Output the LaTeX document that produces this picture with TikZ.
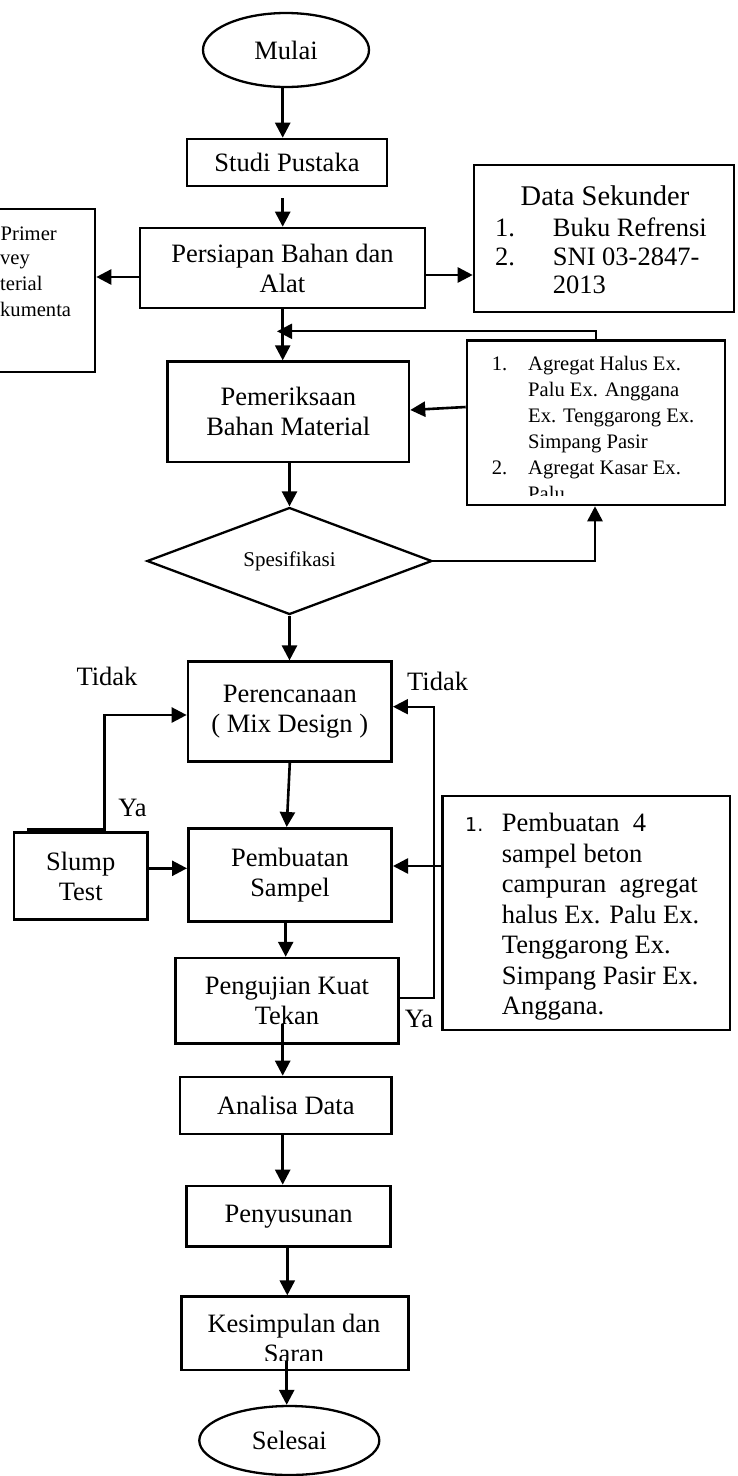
\documentclass[tikz,border=0pt]{standalone}
\usepackage{fontspec}
\setmainfont{Liberation Serif}
\newfontfamily\numfont{DejaVu Sans}
\usetikzlibrary{shapes.geometric,arrows.meta}
\begin{document}
\begin{tikzpicture}[x=1pt,y=-1pt,
  every node/.style={font=\fontsize{26.5}{30}\selectfont},
  box/.style={draw, line width=2.6pt, inner sep=0pt, align=center},
  term/.style={draw, ellipse, line width=2.3pt, inner sep=0pt},
  arr/.style={line width=2.6pt, -{Triangle[length=15pt,width=15pt]}},
  thinarr/.style={line width=2pt, -{Triangle[length=15pt,width=15pt]}},
  small/.style={font=\fontsize{20.6}{26}\selectfont, inner sep=0pt},
  lbl/.style={inner sep=0pt}
]
\useasboundingbox (0,0) rectangle (737,1476);
\clip (0,0) rectangle (737,1476);

% main nodes
\node[term, minimum width=166pt, minimum height=74pt] (mulai) at (286,50) {Mulai};
\node[box, minimum width=200pt, minimum height=47pt] (studi) at (287,162.5) {Studi Pustaka};
\node[box, minimum width=285pt, minimum height=80pt] (persiapan) at (282.5,268) {Persiapan Bahan dan\\Alat};
\node[box, minimum width=200pt, minimum height=163pt] (primer) at (-5,290.5) {};
\node[box, minimum width=260pt, minimum height=147pt] (sekunder) at (604,238.5) {};
\node[box, minimum width=241.3pt, minimum height=100.3pt] (periksa) at (288.3,411.8) {Pemeriksaan\\Bahan Material};
\node[box, minimum width=258pt, minimum height=164.3pt] (agregat) at (596,422.8) {};
\node[draw, diamond, shape aspect=2.66, line width=2.3pt, minimum width=285pt, minimum height=107pt, inner sep=0pt, font=\fontsize{21}{24}\selectfont] (spes) at (289.5,561) {Spesifikasi};
\node[box, minimum width=203.7pt, minimum height=100pt] (rencana) at (289.8,711.7) {Perencanaan\\( Mix Design )};
\node[box, minimum width=133.3pt, minimum height=86.6pt] (slump) at (80.7,876) {Slump\\Test};
\node[box, minimum width=203.4pt, minimum height=93.4pt] (buat) at (290,875) {Pembuatan\\Sampel};
\node[box, minimum width=287.3pt, minimum height=234pt] (sampel) at (586.3,913) {};
\node[box, minimum width=222.6pt, minimum height=85.3pt] (uji) at (287,1000.7) {Pengujian Kuat\\Tekan};
\node[box, minimum width=211.7pt, minimum height=57pt] (analisa) at (285.8,1105.5) {Analisa Data};
\node[box, minimum width=204pt, minimum height=60.7pt] (susun) at (288.7,1216.3) {Penyusunan};
\node[box, minimum width=226.7pt, minimum height=73.3pt] (simpul) at (295,1333.3) {};
\node[term, minimum width=180pt, minimum height=69pt] (selesai) at (289.3,1440.5) {Selesai};

% Data Primer (cut at the left edge)
\node[small, anchor=base west] (pr1) at (0.5,240) {Primer};
\node[small, anchor=base west] (pr2) at (0,264) {vey};
\node[small, anchor=base west] (pr3) at (0,290) {terial};
\node[small, anchor=base west] (pr4) at (0,316) {kumenta};

% Data Sekunder
\node[lbl, font=\fontsize{28.5}{30}\selectfont, anchor=base] (sk0) at (605,205) {Data Sekunder};
\node[lbl, anchor=base west] (sk1n) at (495,236) {1.};
\node[lbl, anchor=base west] (sk1) at (552.7,236) {Buku Refrensi};
\node[lbl, anchor=base west] (sk2n) at (495,265) {2.};
\node[lbl, anchor=base west] (sk2) at (552.7,265) {SNI 03-2847-};
\node[lbl, anchor=base west] (sk3) at (552.7,293.3) {2013};

% Agregat (text cut at the box bottom)
\begin{scope}
\clip (468,342) rectangle (724,495);
\node[small, anchor=base west] (ag1n) at (491.7,370) {1.};
\node[small, anchor=base west] (ag1) at (528,370) {Agregat Halus Ex.};
\node[small, anchor=base west] (ag2) at (528,396) {Palu Ex. Anggana};
\node[small, anchor=base west] (ag3) at (528,422) {Ex. Tenggarong Ex.};
\node[small, anchor=base west] (ag4) at (528,448) {Simpang Pasir};
\node[small, anchor=base west] (ag5n) at (491.7,474) {2.};
\node[small, anchor=base west] (ag5) at (528,474) {Agregat Kasar Ex.};
\node[small, anchor=base west] (ag6) at (528,500) {Palu};
\end{scope}

% Pembuatan 4 sampel
\node[lbl, font=\numfont\fontsize{19}{22}\selectfont, anchor=base west] (smn) at (465,831.7) {1.};
\node[lbl, anchor=base west] (sm1) at (501.7,831.7) {Pembuatan\ \ 4};
\node[lbl, anchor=base west] (sm2) at (501.7,862.2) {sampel beton};
\node[lbl, anchor=base west] (sm3) at (501.7,892.7) {campuran\ \ agregat};
\node[lbl, anchor=base west] (sm4) at (501.7,923.2) {halus Ex. Palu Ex.};
\node[lbl, anchor=base west] (sm5) at (501.7,953.7) {Tenggarong Ex.};
\node[lbl, anchor=base west] (sm6) at (501.7,984.2) {Simpang Pasir Ex.};
\node[lbl, anchor=base west] (sm7) at (501.7,1014.7) {Anggana.};

% Kesimpulan (second line cut)
\node[lbl, anchor=base] (k1) at (294,1332.7) {Kesimpulan dan};
\begin{scope}
\clip (182,1297) rectangle (408,1360.5);
\node[lbl, anchor=base] (k2) at (294,1362.7) {Saran};
\end{scope}

% labels
\node[lbl, anchor=base] (tidak1) at (107,685) {Tidak};
\node[lbl, anchor=base] (tidak2) at (437.6,690.5) {Tidak};
\node[lbl, anchor=base] (ya1) at (132.5,816.7) {Ya};
\node[lbl, anchor=base] (ya2) at (419,1027.7) {Ya};

% connectors
\draw[arr] ([xshift=-3.3pt]mulai.south) -- ([xshift=-3.3pt]mulai.south |- studi.north);
\draw[arr] ([xshift=-4.3pt,yshift=-11pt]studi.south) -- ([xshift=-4.3pt]studi.south |- persiapan.north);
\draw[arr] ([xshift=0.2pt]persiapan.south) -- ([xshift=0.2pt]persiapan.south |- periksa.north);
\draw[arr] ([yshift=-9pt]persiapan.west) -- ([yshift=-9pt]persiapan.west -| primer.east);
\draw[arr] ([yshift=-7pt]persiapan.east) -- ([yshift=-7pt]persiapan.east -| sekunder.west);
\draw[thinarr] (agregat.north) |- ([xshift=-5.5pt,yshift=-22pt]persiapan.south);
\draw[arr] ([yshift=15.8pt]agregat.west) -- ([yshift=1.8pt]periksa.east);
\draw[arr] (periksa.south -| spes.north) -- (spes.north);
\draw[arr] (spes.east) -| ([xshift=-1pt]agregat.south);
\draw[arr] (spes.south) -- (spes.south |- rencana.north);
\draw[arr] (rencana.south) -- ([xshift=-3.3pt]buat.north);
\draw[arr] ([xshift=14pt,yshift=2pt]slump.north west) -- ([xshift=92pt,yshift=2pt]slump.north west) |- ([yshift=-3.3pt]rencana.west);
\draw[arr] ([yshift=7.7pt]slump.east) -- ([yshift=7.7pt]slump.east -| buat.west);
\draw[arr] ([yshift=47pt]sampel.west) -- ([yshift=47pt]sampel.west -| buat.east);
\draw[thinarr] ([yshift=2.4pt]uji.east) -- ++(34,0) |- ([yshift=5pt]rencana.east);
\draw[arr] ([xshift=-4.3pt]buat.south) -- ([xshift=-4.3pt]buat.south |- uji.north);
\draw[arr] ([xshift=-4.3pt,yshift=20.3pt]uji.south) -- ([xshift=-4.3pt]uji.south |- analisa.north);
\draw[arr] ([xshift=-3.1pt]analisa.south) -- ([xshift=-3.1pt]analisa.south |- susun.north);
\draw[arr] ([xshift=-1.4pt]susun.south) -- ([xshift=-1.4pt]susun.south |- simpul.north);
\draw[arr] ([xshift=-8.3pt,yshift=10pt]simpul.south) -- ([xshift=-8.3pt]simpul.south |- selesai.north);
\end{tikzpicture}
\end{document}
